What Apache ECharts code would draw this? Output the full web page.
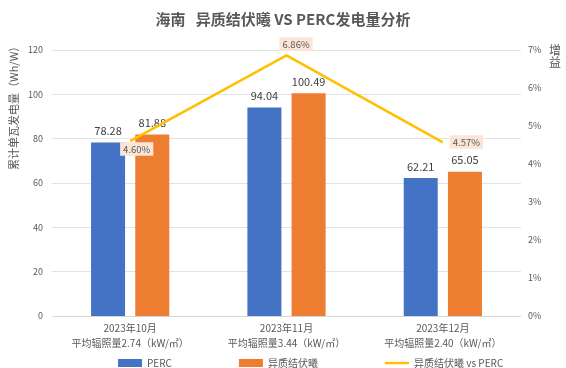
<!DOCTYPE html>
<html><head><meta charset="utf-8">
<script src="https://cdn.jsdelivr.net/npm/echarts@6/dist/echarts.min.js"></script>
<style>html,body{margin:0;padding:0;background:#fff}#c{width:566px;height:368px}</style>
</head><body><div id="c"></div>
<script>
const categories = ['2023年10月\n平均辐照量2.74（kW/㎡）', '2023年11月\n平均辐照量3.44（kW/㎡）', '2023年12月\n平均辐照量2.40（kW/㎡）'];
const perc = [78.28, 94.04, 62.21];
const hjt = [81.88, 100.49, 65.05];
const gain = [4.60, 6.86, 4.57];
const leftTicks = [0, 120, 20];
const rightTicks = [0, 7, 1];

const chart = echarts.init(document.getElementById('c'));
const gray = '#595959';
const labelOffsets = [[-10, 1], [-7, -18], [7, -7]];
chart.setOption({
  animation: false,
  textStyle: {fontFamily: '"Noto Sans CJK SC", "Noto Sans", sans-serif'},
  title: {text: '海南   异质结伏曦 VS PERC发电量分析', left: 'center', top: 7,
    textStyle: {fontSize: 15, fontWeight: 'bold', color: gray}},
  grid: {left: 52, right: 45, top: 50, bottom: 52, containLabel: false, outerBoundsMode: 'none'},
  legend: {left: 113, top: 353, itemGap: 67, itemWidth: 24, itemHeight: 8,
    textStyle: {fontSize: 10, color: gray},
    data: [{name: 'PERC', icon: 'rect'}, {name: '异质结伏曦', icon: 'rect'},
           {name: '异质结伏曦 vs PERC', icon: 'path://M0,0 L24,0 L24,2.4 L0,2.4 Z'}]},
  xAxis: {type: 'category', data: categories,
    axisLine: {lineStyle: {color: '#d9d9d9'}}, axisTick: {show: false},
    axisLabel: {fontSize: 10, color: gray, lineHeight: 15, margin: 5}},
  yAxis: [
    {type: 'value', min: leftTicks[0], max: leftTicks[1], interval: leftTicks[2],
     axisLabel: {fontSize: 9, color: gray, margin: 9},
     splitLine: {lineStyle: {color: '#e3e3e3'}}},
    {type: 'value', min: rightTicks[0], max: rightTicks[1], interval: rightTicks[2],
     axisLabel: {fontSize: 9, color: gray, formatter: v => v + '%', margin: 7},
     splitLine: {show: false}}
  ],
  graphic: [
    {type: 'text', x: 8, y: 170, rotation: Math.PI / 2,
     style: {text: '累计单瓦发电量（Wh/W）', fontSize: 11, fill: gray, verticalAlign: 'top',
       fontFamily: '"Noto Sans CJK SC", sans-serif'}},
    {type: 'text', left: 549, top: 44,
     style: {text: '增\n益', fontSize: 12, fill: gray, lineHeight: 12, fontFamily: '"Noto Sans CJK SC", sans-serif'}}
  ],
  series: [
    {name: 'PERC', type: 'bar', data: perc, barWidth: 34, barGap: '30%',
     itemStyle: {color: '#4472C4'},
     label: {show: true, position: 'top', fontSize: 11, color: '#404040', distance: 6}},
    {name: '异质结伏曦', type: 'bar', data: hjt, barWidth: 34,
     itemStyle: {color: '#ED7D31'},
     label: {show: true, position: 'top', fontSize: 11, color: '#404040', distance: 6}},
    {name: '异质结伏曦 vs PERC', type: 'line', yAxisIndex: 1, symbol: 'circle', symbolSize: 0.1,
     lineStyle: {color: '#FFC000', width: 2.5}, itemStyle: {color: '#FFC000'}, z: 5,
     data: gain.map((v, i) => ({value: v, label: {position: labelOffsets[i]}})),
     label: {show: true, formatter: p => p.value.toFixed(2) + '%', fontSize: 9.5, color: gray,
       backgroundColor: '#FBE5D6', padding: [2, 3, 2, 3]}}
  ]
});
</script></body></html>
